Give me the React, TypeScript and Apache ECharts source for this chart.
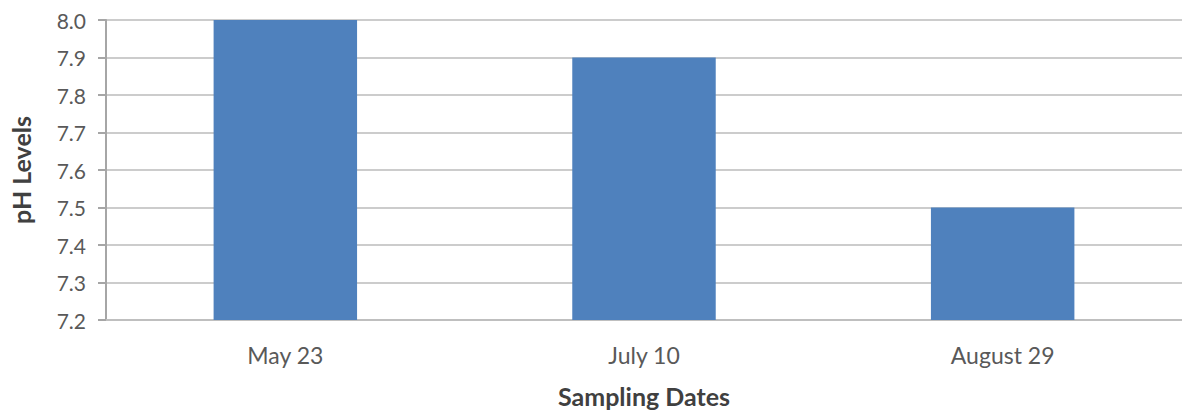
import React, { useEffect, useRef } from "react";
import * as echarts from "echarts";

const categories = ["May 23", "July 10", "August 29"];
const phValues = [8.0, 7.9, 7.5];
const yTicks = { min: 7.2, max: 8.0, interval: 0.1 };

export default function App() {
  const ref = useRef<HTMLDivElement>(null);
  useEffect(() => {
    if (!ref.current) return;
    const chart = echarts.init(ref.current, null, { renderer: "svg" });
    const font = "Lato, 'Open Sans', sans-serif";
    chart.setOption({
      animation: false,
      backgroundColor: "#ffffff",
      grid: { left: 105, top: 20, width: 1086, height: 301, containLabel: false },
      xAxis: {
        type: "category",
        data: categories,
        name: "Sampling Dates",
        nameLocation: "middle",
        nameGap: 63,
        nameTextStyle: { fontFamily: font, fontSize: 25, fontWeight: "bold", color: "#404040" },
        axisLine: { lineStyle: { color: "#bfbfbf", width: 2 } },
        axisTick: { show: false },
        axisLabel: { fontFamily: font, fontSize: 23, color: "#595959", margin: 23 },
      },
      yAxis: {
        type: "value",
        min: yTicks.min,
        max: yTicks.max,
        interval: yTicks.interval,
        name: "pH Levels",
        nameLocation: "middle",
        nameGap: 73,
        nameRotate: 90,
        nameTextStyle: { fontFamily: font, fontSize: 25, fontWeight: "bold", color: "#404040" },
        axisLine: { show: true, lineStyle: { color: "#a6a6a6", width: 2 } },
        axisTick: { show: true, length: 8, lineStyle: { color: "#a6a6a6", width: 2 } },
        axisLabel: {
          fontFamily: font,
          fontSize: 21,
          color: "#595959",
          margin: 20,
          formatter: (v: number) => v.toFixed(1),
        },
        splitLine: { lineStyle: { color: "#cccccc", width: 2 } },
      },
      series: [
        {
          type: "bar",
          data: phValues,
          barWidth: "40%",
          itemStyle: { color: "#4f81bd" },
        },
      ],
    });
    return () => chart.dispose();
  }, []);
  return (
    <div
      ref={ref}
      style={{ position: "absolute", left: 0, top: 0, width: 1182, height: 413 }}
    />
  );
}
